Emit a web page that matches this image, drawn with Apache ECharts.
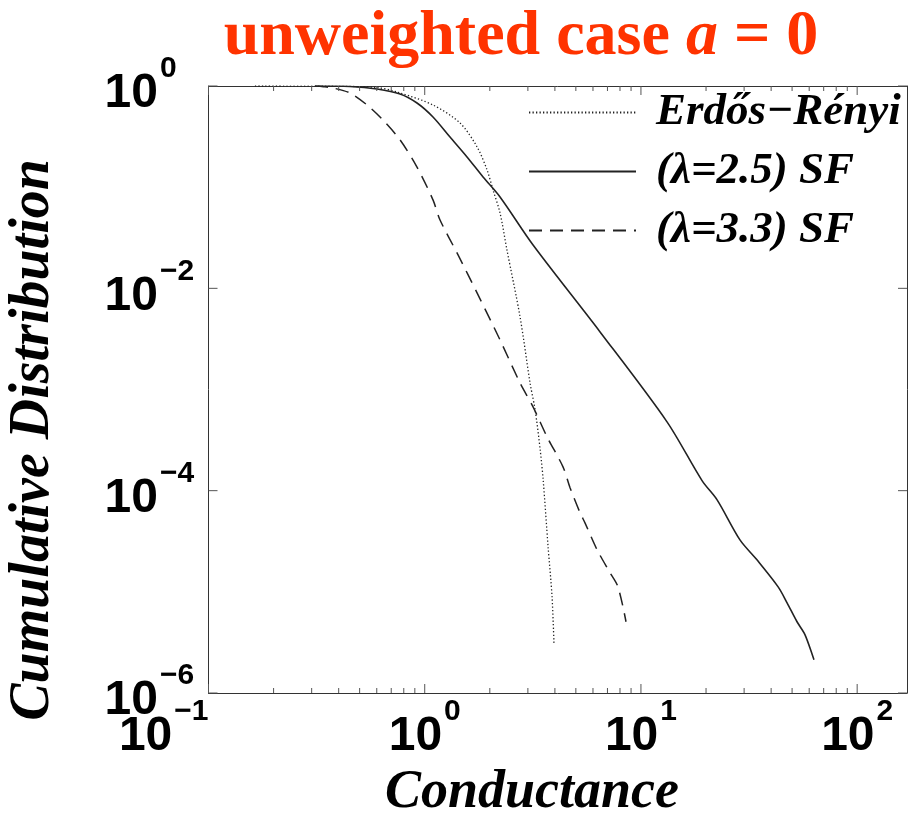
<!DOCTYPE html>
<html>
<head>
<meta charset="utf-8">
<script src="https://cdn.jsdelivr.net/npm/echarts@6/dist/echarts.min.js"></script>
<style>
  html, body { margin: 0; padding: 0; background: #fff; }
  #chart { width: 910px; height: 814px; }
</style>
</head>
<body>
<div id="chart"></div>
<script>
// Cumulative distribution of conductance, log-log
const seriesNames = ['Erdős−Rényi', '(λ=2.5) SF', '(λ=3.3) SF'];

// [conductance, cumulative distribution]
const erdosRenyi = [
  [0.164, 1.0], [0.35, 0.995], [0.60, 0.966], [0.769, 0.853], [1.092, 0.649],
  [1.456, 0.431], [1.746, 0.250], [1.942, 0.148], [2.07, 0.0938], [2.23, 0.0556],
  [2.40, 0.0240], [2.76, 0.00522], [3.07, 0.00116], [3.24, 6.29e-4], [3.42, 2.53e-4],
  [3.53, 1.28e-4], [3.72, 2.78e-5], [3.88, 8.93e-6], [3.96, 3.13e-6]
];
const scaleFree25 = [
  [0.311, 1.0], [0.451, 0.989], [0.602, 0.934], [0.769, 0.834], [0.921, 0.679],
  [1.092, 0.494], [1.309, 0.313], [1.569, 0.199], [1.861, 0.126], [2.23, 0.080],
  [3.17, 0.0268], [6.47, 0.00371], [13.2, 4.79e-4], [19.2, 1.25e-4], [22.5, 8.11e-5],
  [28.7, 3.26e-5], [34.4, 2.07e-5], [43.1, 1.12e-5], [47.4, 7.79e-6], [52.7, 5.06e-6],
  [57.4, 3.76e-6], [63.1, 2.13e-6]
];
const scaleFree33 = [
  [0.311, 1.0], [0.34, 0.985], [0.377, 0.955], [0.451, 0.853], [0.541, 0.649],
  [0.641, 0.461], [0.769, 0.293], [0.921, 0.158], [1.092, 0.0748], [1.177, 0.0474],
  [1.426, 0.0214], [1.746, 0.00901], [2.23, 0.00309], [2.76, 0.00116], [3.17, 6.73e-4],
  [3.68, 3.40e-4], [4.36, 1.72e-4], [4.70, 1.07e-4], [5.23, 6.04e-5], [5.51, 4.81e-5],
  [6.27, 2.60e-5], [7.20, 1.54e-5], [7.83, 1.12e-5], [8.53, 5.06e-6]
];

// axis ranges and tick values
const xRange = [0.1, 170];
const yRange = [1e-6, 1];
const xTickValues = [
  0.1, 0.2, 0.3, 0.4, 0.5, 0.6, 0.7, 0.8, 0.9,
  1, 2, 3, 4, 5, 6, 7, 8, 9,
  10, 20, 30, 40, 50, 60, 70, 80, 90, 100
];
const yTickValues = [1, 1e-2, 1e-4, 1e-6];

const labelFont = 'Liberation Sans, Arial, sans-serif';
const serifFont = 'Liberation Serif, Times New Roman, serif';

function isDecade(v) {
  const e = Math.log10(v);
  return Math.abs(e - Math.round(e)) < 1e-6;
}
function powerLabel(v, onlyEven) {
  if (!isDecade(v)) return '';
  const e = Math.round(Math.log10(v));
  if (onlyEven && e % 2 !== 0) return '';
  return '{b|10}{e|' + (e < 0 ? '−' : '') + Math.abs(e) + '}';
}
// "10" with a raised exponent
const powerRich = {
  b: { fontFamily: labelFont, fontWeight: 'bold', fontSize: 48, color: '#000', verticalAlign: 'bottom' },
  e: { fontFamily: labelFont, fontWeight: 'bold', fontSize: 30, color: '#000', verticalAlign: 'top', padding: [0, 0, 34, 2] }
};

const boxLine = { show: true, lineStyle: { color: '#333', width: 1 } };

function tickRenderer(isX) {
  return function (params, api) {
    const v = api.value(isX ? 0 : 1);
    const len = isDecade(v) ? 9 : 5;
    const style = { stroke: '#555', lineWidth: 1 };
    if (isX) {
      const b = api.coord([v, yRange[0]]);
      const t = api.coord([v, yRange[1]]);
      return { type: 'group', children: [
        { type: 'line', shape: { x1: b[0], y1: b[1], x2: b[0], y2: b[1] - len }, style },
        { type: 'line', shape: { x1: t[0], y1: t[1], x2: t[0], y2: t[1] + len }, style }
      ] };
    }
    const l = api.coord([xRange[0], v]);
    const r = api.coord([xRange[1], v]);
    return { type: 'group', children: [
      { type: 'line', shape: { x1: l[0], y1: l[1], x2: l[0] + len, y2: l[1] }, style },
      { type: 'line', shape: { x1: r[0], y1: r[1], x2: r[0] - len, y2: r[1] }, style }
    ] };
  };
}

const chart = echarts.init(document.getElementById('chart'), null, { renderer: 'canvas' });

chart.setOption({
  animation: false,
  backgroundColor: '#fff',
  grid: { left: 208.5, right: 3, top: 86, bottom: 121 },
  xAxis: [
    {
      type: 'log', logBase: 10, min: xRange[0], max: xRange[1], position: 'bottom',
      axisLine: boxLine, axisTick: { show: false }, splitLine: { show: false },
      axisLabel: {
        margin: 4, alignMinLabel: 'right',
        formatter: v => powerLabel(v, false), rich: powerRich
      }
    },
    {
      type: 'log', logBase: 10, min: xRange[0], max: xRange[1], position: 'top',
      axisLine: boxLine, axisTick: { show: false }, splitLine: { show: false },
      axisLabel: { show: false }
    }
  ],
  yAxis: [
    {
      type: 'log', logBase: 10, min: yRange[0], max: yRange[1], position: 'left',
      axisLine: boxLine, axisTick: { show: false }, splitLine: { show: false },
      axisLabel: { margin: 104, align: 'left', formatter: v => powerLabel(v, true), rich: powerRich }
    },
    {
      type: 'log', logBase: 10, min: yRange[0], max: yRange[1], position: 'right',
      axisLine: boxLine, axisTick: { show: false }, splitLine: { show: false },
      axisLabel: { show: false }
    }
  ],
  legend: {
    orient: 'vertical', left: 528, top: 90, padding: 0,
    itemWidth: 107, itemHeight: 2, itemGap: 14,
    selectedMode: false,
    data: seriesNames,
    itemStyle: { opacity: 0 },
    formatter: name => '{t|' + name + '}',
    textStyle: {
      rich: {
        t: {
          fontFamily: serifFont, fontStyle: 'italic', fontWeight: 'bold',
          fontSize: 45, lineHeight: 50, color: '#000', padding: [0, 0, 0, 15]
        }
      }
    }
  },
  graphic: [
    {
      type: 'text', x: 521, y: 37,
      style: {
        text: '{n|unweighted case }{i|a}{n| = 0}',
        align: 'center', verticalAlign: 'middle',
        rich: {
          n: { fontFamily: serifFont, fontWeight: 'bold', fontSize: 64, fill: '#ff3300' },
          i: { fontFamily: serifFont, fontWeight: 'bold', fontStyle: 'italic', fontSize: 64, fill: '#ff3300' }
        }
      }
    },
    {
      type: 'text', x: 532, y: 793,
      style: {
        text: 'Conductance', align: 'center', verticalAlign: 'middle',
        fontFamily: serifFont, fontWeight: 'bold', fontStyle: 'italic', fontSize: 54, fill: '#000'
      }
    },
    {
      type: 'text', x: 34, y: 440, rotation: Math.PI / 2,
      style: {
        text: 'Cumulative Distribution', align: 'center', verticalAlign: 'middle',
        fontFamily: serifFont, fontWeight: 'bold', fontStyle: 'italic', fontSize: 56, fill: '#000'
      }
    }
  ],
  series: [
    {
      name: seriesNames[0], type: 'line', data: erdosRenyi, symbol: 'none', smooth: 0.3,
      lineStyle: { color: '#222', width: 1.3, type: [1.3, 2.2] }, itemStyle: { color: '#222' }
    },
    {
      name: seriesNames[1], type: 'line', data: scaleFree25, symbol: 'none', smooth: 0.3,
      lineStyle: { color: '#222', width: 1.6, type: 'solid' }, itemStyle: { color: '#222' }
    },
    {
      name: seriesNames[2], type: 'line', data: scaleFree33, symbol: 'none', smooth: 0.3,
      lineStyle: { color: '#222', width: 1.5, type: [13, 8] }, itemStyle: { color: '#222' }
    },
    {
      type: 'custom', silent: true, clip: false, renderItem: tickRenderer(true),
      data: xTickValues.map(v => [v, 1]), z: 5
    },
    {
      type: 'custom', silent: true, clip: false, renderItem: tickRenderer(false),
      data: yTickValues.map(v => [1, v]), z: 5
    }
  ]
});
</script>
</body>
</html>
